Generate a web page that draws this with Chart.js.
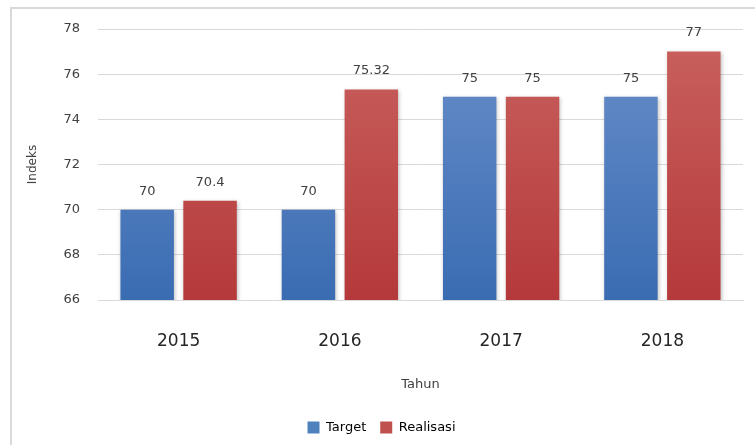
<!DOCTYPE html>
<html>
<head>
<meta charset="utf-8">
<script src="https://cdn.jsdelivr.net/npm/chart.js@4.4.0/dist/chart.umd.min.js"></script>
<style>
  html, body { margin: 0; padding: 0; background: #fff; }
  #wrap { position: relative; width: 755px; height: 445px; overflow: hidden; }
  #frame { position: absolute; left: 10px; top: 7px; width: 800px; height: 500px; border: 2px solid #d9d9d9; box-sizing: border-box; }
  #c { position: absolute; left: 0; top: 0; }
</style>
</head>
<body>
<div id="wrap">
  <div id="frame"></div>
  <canvas id="c" width="755" height="445"></canvas>
</div>
<script>
// data
const years = ['2015', '2016', '2017', '2018'];
const targetValues = [70, 70, 75, 75];
const realisasiValues = [70.4, 75.32, 75, 77];
const seriesNames = ['Target', 'Realisasi'];

const FONT = '"DejaVu Sans", sans-serif';

// vertical gradient for bars
function barGradient(top, bottom) {
    return function (ctx) {
        const chart = ctx.chart;
        const area = chart.chartArea;
        if (!area) return bottom;
        const g = chart.ctx.createLinearGradient(0, area.top, 0, area.bottom);
        g.addColorStop(0, top);
        g.addColorStop(1, bottom);
        return g;
    };
}

// value labels above bars
const valueLabels = {
    id: 'valueLabels',
    afterDatasetsDraw(chart) {
        const ctx = chart.ctx;
        ctx.save();
        ctx.font = '13px ' + FONT;
        ctx.fillStyle = '#404040';
        ctx.textAlign = 'center';
        ctx.textBaseline = 'bottom';
        chart.data.datasets.forEach((ds, i) => {
            chart.getDatasetMeta(i).data.forEach((bar, j) => {
                ctx.fillText(String(ds.data[j]), bar.x, bar.y - 12);
            });
        });
        ctx.restore();
    }
};

// soft shadow behind bars
const barShadow = {
    id: 'barShadow',
    beforeDatasetsDraw(chart) {
        chart.ctx.save();
        chart.ctx.shadowColor = 'rgba(0,0,0,0.25)';
        chart.ctx.shadowBlur = 4;
        chart.ctx.shadowOffsetX = 1;
        chart.ctx.shadowOffsetY = 1;
    },
    afterDatasetsDraw(chart) {
        chart.ctx.restore();
    }
};

new Chart(document.getElementById('c'), {
    type: 'bar',
    data: {
        labels: years,
        datasets: [
            {
                label: seriesNames[0],
                data: targetValues,
                backgroundColor: barGradient('#6a8fcb', '#3a6cb2')
            },
            {
                label: seriesNames[1],
                data: realisasiValues,
                backgroundColor: barGradient('#c9625f', '#b5393a')
            }
        ]
    },
    plugins: [barShadow, valueLabels],
    options: {
        responsive: false,
        animation: false,
        layout: { padding: { left: 20, right: 12, top: 29, bottom: 1 } },
        categoryPercentage: 0.78,
        barPercentage: 0.85,
        plugins: {
            tooltip: { enabled: false },
            legend: {
                position: 'bottom',
                labels: {
                    font: { family: FONT, size: 13 },
                    color: '#404040',
                    boxWidth: 12,
                    boxHeight: 12,
                    padding: 14,
                    generateLabels(chart) {
                        const cols = ['#4f81bd', '#c0504d'];
                        return chart.data.datasets.map((ds, i) => ({
                            text: ds.label,
                            fillStyle: cols[i],
                            strokeStyle: cols[i],
                            lineWidth: 0,
                            datasetIndex: i
                        }));
                    }
                }
            }
        },
        scales: {
            x: {
                grid: { display: false },
                border: { color: '#d9d9d9' },
                ticks: { font: { family: FONT, size: 17 }, color: '#262626', padding: 23 },
                title: {
                    display: true,
                    text: 'Tahun',
                    font: { family: FONT, size: 13 },
                    color: '#404040',
                    padding: { top: 4, bottom: 15 }
                },
                afterFit(scale) { scale.height = 107; }
            },
            y: {
                min: 66,
                max: 78,
                ticks: { stepSize: 2, font: { family: FONT, size: 13 }, color: '#404040', padding: 18 },
                grid: { color: '#d9d9d9', drawTicks: false },
                border: { display: false },
                title: {
                    display: true,
                    text: 'Indeks',
                    font: { family: FONT, size: 12 },
                    color: '#404040',
                    padding: { top: 6, bottom: 6 }
                },
                afterFit(scale) { scale.width = 78; }
            }
        }
    }
});
</script>
</body>
</html>
